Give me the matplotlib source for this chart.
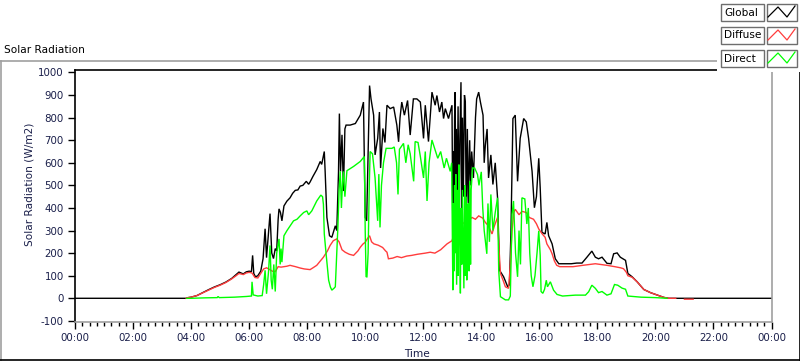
import matplotlib
matplotlib.use("Agg")
import matplotlib.pyplot as plt
from matplotlib.lines import Line2D
from matplotlib.patches import Rectangle

nan = float("nan")

# ---------------- data (hours of day, W/m2) ----------------
global_t = [0.0, 3.83, 3.9, 4.0, 4.2, 4.4, 4.6, 4.8, 5.0, 5.2, 5.4, 5.55, 5.65, 5.8, 5.9, 6.0, 6.08, 6.12, 6.16, 6.22,
            6.3, 6.4, 6.48, 6.55, 6.6, 6.65, 6.72, 6.78, 6.84, 6.9, 6.95, 7.0, 7.03, 7.08, 7.13, 7.2, 7.3, 7.41, 7.5, 7.59,
            7.68, 7.76, 7.85, 7.97, 8.05, 8.1, 8.2, 8.33, 8.45, 8.5, 8.59, 8.62, 8.68, 8.77, 8.85, 8.92, 8.97, 9.02, 9.08, 9.11,
            9.15, 9.2, 9.25, 9.3, 9.34, 9.48, 9.66, 9.83, 9.94, 10.0, 10.05, 10.15, 10.2, 10.29, 10.34, 10.43, 10.49, 10.53, 10.61, 10.68,
            10.75, 10.86, 10.98, 11.09, 11.15, 11.2, 11.26, 11.35, 11.46, 11.55, 11.66, 11.78, 11.9, 12.01, 12.07, 12.18, 12.3, 12.41, 12.47, 12.56,
            12.64, 12.7, 12.76, 12.87, 12.99, 13.02, 13.04, 13.06, 13.08, 13.1, 13.12, 13.14, 13.17, 13.2, 13.23, 13.26, 13.3, 13.32, 13.35, 13.38,
            13.42, 13.45, 13.48, 13.52, 13.55, 13.6, 13.63, 13.67, 13.73, 13.8, 13.84, 13.91, 13.97, 14.06, 14.1, 14.14, 14.2, 14.25, 14.33, 14.4,
            14.48, 14.56, 14.63, 14.77, 14.91, 14.97, 15.02, 15.09, 15.17, 15.25, 15.34, 15.46, 15.55, 15.63, 15.75, 15.83, 15.9, 15.98, 16.03, 16.09,
            16.2, 16.26, 16.32, 16.44, 16.55, 16.67, 17.1, 17.29, 17.47, 17.64, 17.81, 17.93, 18.04, 18.16, 18.33, 18.47, 18.56, 18.68, 18.79, 18.97,
            19.05, 19.2, 19.37, 19.6, 19.83, 20.05, 20.29, 20.46, 24.0]
global_v = [0, 0, 3, 5, 12, 25, 38, 50, 60, 72, 88, 105, 116, 108, 117, 120, 118, 190, 110, 95,
            100, 120, 175, 308, 180, 260, 375, 200, 176, 220, 210, 350, 396, 380, 343, 409, 430, 445, 465, 478,
            480, 497, 500, 518, 505, 515, 540, 570, 606, 593, 650, 560, 358, 277, 270, 300, 321, 300, 560, 818,
            562, 724, 475, 750, 767, 767, 774, 811, 869, 358, 343, 942, 883, 811, 635, 708, 825, 577, 752, 690,
            855, 840, 847, 767, 693, 800, 869, 811, 876, 723, 883, 883, 869, 708, 855, 694, 913, 855, 898, 825,
            869, 796, 840, 796, 855, 277, 650, 300, 800, 913, 358, 750, 400, 850, 350, 700, 957, 330, 800, 450,
            900, 869, 380, 750, 420, 700, 500, 650, 533, 800, 883, 913, 869, 811, 600, 679, 750, 533, 635, 504,
            600, 445, 124, 95, 51, 60, 285, 796, 811, 518, 708, 796, 781, 708, 562, 401, 450, 620, 489, 292,
            285, 336, 277, 241, 175, 153, 153, 156, 156, 182, 209, 182, 175, 182, 155, 153, 197, 201, 182, 168,
            110, 95, 73, 39, 25, 15, 4, 0, 0]

diffuse_t = [3.83, 3.9, 4.0, 4.2, 4.4, 4.6, 4.8, 5.0, 5.2, 5.4, 5.55, 5.65, 5.8, 5.9, 6.0, 6.1, 6.2, 6.3, 6.4,
             6.5, 6.6, 6.7, 6.8, 6.9, 7.0, 7.1, 7.3, 7.41, 7.6, 7.76, 7.9, 8.1, 8.2, 8.33, 8.45, 8.56, 8.7, 8.79, 8.9,
             9.02, 9.1, 9.2, 9.31, 9.45, 9.6, 9.75, 9.83, 9.92, 10.0, 10.08, 10.15, 10.22, 10.3, 10.45, 10.6, 10.7, 10.75, 10.8, 10.95,
             11.1, 11.25, 11.43, 11.6, 11.8, 12.07, 12.24, 12.4, 12.6, 12.82, 12.99, 13.1, 13.2, 13.33, 13.45, 13.55, 13.68, 13.8, 13.91, 14.05,
             14.14, 14.25, 14.37, 14.45, 14.56, 14.62, 14.66, 14.75, 14.83, 14.94, 15.0, 15.06, 15.12, 15.17, 15.3, 15.4, 15.55, 15.65, 15.8, 15.9,
             15.98, 16.1, 16.2, 16.26, 16.38, 16.44, 16.52, 16.6, 16.7, 17.16, 17.5, 17.93, 18.1, 18.33, 18.6, 18.8, 18.9, 19.0, 19.05, 19.2,
             19.37, 19.6, 19.83, 20.05, 20.29, 20.46, 20.7, 20.97, 21.0, 21.3, 21.32]
diffuse_v = [0, 3, 5, 12, 24, 36, 48, 58, 70, 86, 100, 110, 105, 112, 115, 112, 92, 90, 110,
             130, 135, 128, 120, 118, 140, 138, 142, 146, 140, 134, 130, 127, 135, 146, 165, 182, 210, 234, 255,
             263, 250, 215, 204, 195, 190, 210, 226, 240, 248, 265, 277, 250, 241, 235, 225, 210, 204, 175, 178,
             185, 180, 187, 190, 195, 200, 204, 200, 215, 241, 255, 299, 320, 336, 330, 345, 358, 350, 365, 355,
             336, 320, 285, 320, 358, 200, 110, 80, 51, 44, 150, 300, 380, 394, 370, 385, 380, 358, 350, 330,
             307, 285, 270, 241, 215, 197, 165, 146, 140, 140, 146, 153, 150, 146, 140, 135, 131, 115, 100, 93,
             73, 39, 25, 15, 4, 0, 0, nan, -4, -4, nan]

direct_t = [3.85, 4.0, 4.5, 4.9, 4.93, 4.97, 5.5, 5.9, 6.08, 6.1, 6.14, 6.3, 6.45, 6.5, 6.55, 6.6, 6.67, 6.72, 6.76,
            6.8, 6.85, 6.9, 6.95, 7.03, 7.07, 7.1, 7.13, 7.2, 7.3, 7.41, 7.53, 7.65, 7.76, 7.88, 7.99, 8.05, 8.16, 8.25, 8.33,
            8.47, 8.53, 8.56, 8.59, 8.65, 8.74, 8.8, 8.85, 8.93, 8.97, 9.02, 9.06, 9.1, 9.14, 9.18, 9.22, 9.25, 9.3, 9.37, 9.6,
            9.83, 9.97, 10.0, 10.03, 10.06, 10.1, 10.14, 10.17, 10.25, 10.34, 10.43, 10.47, 10.51, 10.56, 10.63, 10.72, 10.92, 11.0, 11.08, 11.13,
            11.18, 11.32, 11.4, 11.48, 11.55, 11.67, 11.72, 11.82, 11.9, 12.01, 12.07, 12.13, 12.2, 12.3, 12.41, 12.5, 12.6, 12.72, 12.8, 12.93,
            12.98, 13.02, 13.04, 13.06, 13.08, 13.1, 13.12, 13.15, 13.18, 13.2, 13.23, 13.25, 13.28, 13.3, 13.33, 13.35, 13.38, 13.4, 13.43, 13.45,
            13.48, 13.5, 13.53, 13.55, 13.58, 13.6, 13.63, 13.65, 13.7, 13.77, 13.87, 13.92, 14.0, 14.05, 14.1, 14.19, 14.23, 14.28, 14.33, 14.4,
            14.48, 14.56, 14.6, 14.66, 14.83, 14.94, 15.0, 15.06, 15.11, 15.18, 15.25, 15.3, 15.35, 15.4, 15.5, 15.57, 15.62, 15.67, 15.72, 15.78,
            15.85, 15.92, 15.98, 16.03, 16.06, 16.12, 16.18, 16.24, 16.28, 16.38, 16.49, 16.61, 16.8, 17.24, 17.59, 17.7, 17.81, 17.93, 18.04, 18.16,
            18.33, 18.47, 18.59, 18.7, 18.85, 18.97, 19.05, 19.5, 20.0, 20.4]
direct_v = [0, 0, 2, 3, 8, 3, 5, 8, 10, 73, 15, 10, 12, 60, 124, 20, 120, 234, 80,
            40, 150, 30, 200, 263, 150, 220, 160, 277, 299, 320, 343, 350, 365, 380, 387, 370, 387, 410, 431,
            457, 450, 416, 285, 200, 80, 50, 36, 45, 51, 197, 320, 480, 562, 400, 520, 562, 450, 565, 584,
            606, 628, 300, 95, 95, 200, 500, 650, 640, 533, 343, 550, 314, 500, 600, 664, 664, 670, 600, 460,
            660, 686, 600, 680, 640, 518, 694, 690, 628, 533, 650, 431, 600, 701, 657, 620, 650, 577, 620, 562,
            600, 36, 420, 120, 500, 200, 550, 60, 480, 100, 592, 300, 22, 400, 150, 480, 200, 44, 500, 100,
            450, 80, 380, 420, 120, 520, 150, 480, 577, 577, 548, 500, 560, 400, 300, 197, 420, 250, 460, 300,
            380, 445, 124, 7, -7, -7, 10, 372, 431, 200, 95, 300, 150, 445, 440, 329, 400, 200, 100, 51,
            100, 200, 299, 190, 30, 22, 40, 80, 51, 73, 36, 17, 10, 14, 14, 29, 58, 44, 25, 30,
            14, 20, 61, 58, 45, 40, 10, 5, 3, 0]

series_names = ["Global", "Diffuse", "Direct"]
series_colors = ["#000000", "#ff3c3c", "#00ff00"]
x_ticks = list(range(0, 25, 2))
x_labels = ["00:00", "02:00", "04:00", "06:00", "08:00", "10:00", "12:00",
            "14:00", "16:00", "18:00", "20:00", "22:00", "00:00"]
y_ticks = list(range(-100, 1001, 100))

# ---------------- figure ----------------
W, H = 800, 361
fig = plt.figure(figsize=(W / 100, H / 100), dpi=100)
fig.patch.set_facecolor("white")
txtc = "#1a1f4a"
FONT = "DejaVu Sans"


def fx(px):
    return px / W


def fy(py):
    return 1 - py / H


# outer panel frame
fig.add_artist(Line2D([fx(0), fx(717)], [fy(61), fy(61)], color="#a0a0a0", lw=1.2))
fig.add_artist(Line2D([fx(0.5), fx(0.5)], [fy(61), fy(361)], color="#a0a0a0", lw=1.2))
fig.add_artist(Line2D([fx(0), fx(800)], [fy(360), fy(360)], color="#000000", lw=1.2))
fig.add_artist(Line2D([fx(799.5), fx(799.5)], [fy(70), fy(361)], color="#000000", lw=1.2))

fig.text(fx(4), fy(50), "Solar Radiation", fontsize=7.6, family=FONT, color="#000000",
         ha="left", va="center")

ax = fig.add_axes([fx(75), fy(322), fx(771.5) - fx(75), fy(70) - fy(322)])
series = [(global_t, global_v), (diffuse_t, diffuse_v), (direct_t, direct_v)]
for (t, v), c, n in zip(series, series_colors, series_names):
    ax.plot(t, v, color=c, lw=1.0, label=n, solid_joinstyle="miter")

ax.set_xlim(0, 24)
ax.set_ylim(-105, 1011)
ax.set_xticks(x_ticks)
ax.set_xticklabels(x_labels)
ax.set_xticks([i * 0.25 for i in range(97)], minor=True)
ax.set_yticks(y_ticks)
ax.set_yticklabels([str(v) for v in y_ticks])
ax.tick_params(axis="both", which="major", length=5, width=1, color="black",
               labelsize=7.4, labelcolor=txtc, pad=3)
ax.tick_params(axis="x", which="minor", length=3, width=1, color="black")
for lab in ax.get_xticklabels() + ax.get_yticklabels():
    lab.set_family(FONT)
ax.spines["top"].set_color("black")
ax.spines["left"].set_color("black")
ax.spines["right"].set_color("#a0a0a0")
ax.spines["bottom"].set_color("#a0a0a0")
for s in ax.spines.values():
    s.set_linewidth(1.2)

fig.text(fx(30), fy(184), "Solar Radiation (W/m2)", rotation=90, fontsize=7.6, family=FONT,
         color=txtc, ha="center", va="center")
fig.text(fx(417), fy(354), "Time", fontsize=7.6, family=FONT, color=txtc,
         ha="center", va="center")

# legend panel
fig.add_artist(Rectangle((fx(717), fy(72)), fx(800) - fx(717), fy(0) - fy(72),
                         transform=fig.transFigure, facecolor="white", edgecolor="none", zorder=5))
rows_top = [4, 27, 50]
for name, c, top in zip(series_names, series_colors, rows_top):
    fig.add_artist(Rectangle((fx(721), fy(top + 17)), fx(764) - fx(721), fy(top) - fy(top + 17),
                             transform=fig.transFigure, facecolor="white", edgecolor="#6e6e6e",
                             lw=1.0, zorder=6))
    fig.add_artist(Rectangle((fx(767), fy(top + 17)), fx(797) - fx(767), fy(top) - fy(top + 17),
                             transform=fig.transFigure, facecolor="white", edgecolor="#6e6e6e",
                             lw=1.0, zorder=6))
    fig.text(fx(724), fy(top + 8.5), name, fontsize=7.6, family=FONT, color="#000000",
             ha="left", va="center", zorder=7)
    zx = [768, 778, 787, 795]
    zy = [top + 13, top + 3, top + 13, top + 2]
    fig.add_artist(Line2D([fx(v) for v in zx], [fy(v) for v in zy], color=c, lw=0.9, zorder=7))

fig.savefig("out.png", dpi=100, facecolor="white")
